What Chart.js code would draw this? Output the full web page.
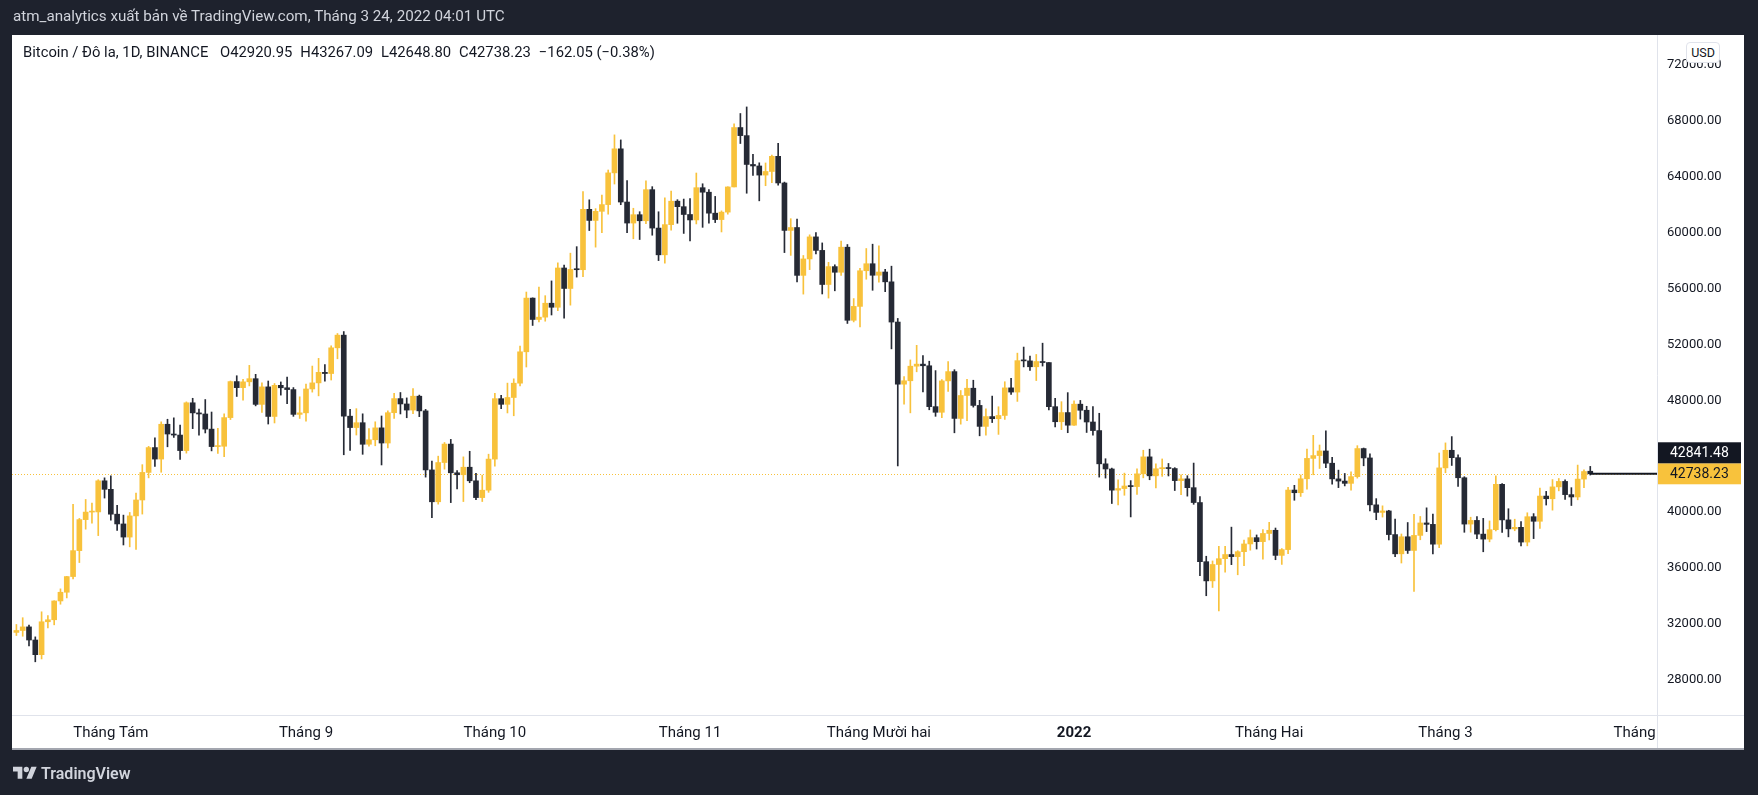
<!DOCTYPE html>
<html>
<head>
<meta charset="utf-8">
<title>Bitcoin / Đô la, 1D, BINANCE</title>
<script src="https://cdn.jsdelivr.net/npm/chart.js@4.4.1/dist/chart.umd.min.js"></script>
<style>
  html, body { margin: 0; padding: 0; background: #1e222d; }
  body { width: 1758px; height: 795px; position: relative; overflow: hidden; font-family: Roboto, "Noto Sans", sans-serif; }
  #chart { position: absolute; left: 0; top: 0; }
  .top { position: absolute; left: 13px; top: 7px; color: #d1d4dc; font-size: 15.2px; white-space: nowrap; }
  .legend { position: absolute; left: 23px; top: 43px; color: #131722; font-size: 14.8px; white-space: nowrap; }
  .legend span { margin-left: 8px; }
  .usd { position: absolute; left: 1686px; top: 42px; width: 32px; height: 19px; line-height: 19px; text-align: center;
         background: #fff; border: 1px solid #e0e3eb; border-radius: 4px; font-size: 12.5px; color: #131722; }
  .brand { position: absolute; left: 13px; top: 763px; height: 20px; display: flex; align-items: center; color: #d1d4dc;
           font-size: 16px; font-weight: 600; }
  .brand svg { width: 24px; height: 19px; margin-right: 4px; }
</style>
</head>
<body>
<canvas id="chart" width="1758" height="795"></canvas>
<div class="top">atm_analytics xuất bản về TradingView.com, Tháng 3 24, 2022 04:01 UTC</div>
<div class="legend">Bitcoin / Đô la, 1D, BINANCE <span>O42920.95</span><span>H43267.09</span><span>L42648.80</span><span>C42738.23</span><span>−162.05 (−0.38%)</span></div>
<div class="usd">USD</div>
<div class="brand"><svg viewBox="0 0 36 28"><path fill="#d1d4dc" d="M14 22H7V11H0V4h14v18zM28 22h-8l7.5-18h8L28 22z"/><circle fill="#d1d4dc" cx="20" cy="8" r="4"/></svg>TradingView</div>
<script>
// daily candles, first one is 2021-07-17
const firstDay = '2021-07-17'

const opens = [
  31383, 31520, 31778, 30839, 29790, 32144, 32287, 33634, 34258, 35381, 37237, 39457, 39996, 40008, 42236,
  41626, 39846, 39147, 38208, 39723, 40862, 42836, 44614, 43792, 46284, 45585, 45511, 44400, 47821, 47097, 47019, 45936, 44686, 44709, 46760, 49339, 48905, 49321, 49546, 47706, 48960, 46843, 49069, 48895, 48767, 46991,
  47100, 48810, 49246, 49999, 49915, 51756, 52663, 46863, 46048, 46395, 44851, 45173, 46026, 44940, 47111, 48121, 47737, 47299, 48293, 47241, 43015, 40734, 43543, 44865, 42810, 42670, 43208, 42236, 41034, 41564,
  43790, 48116, 47711, 48200, 49224, 51471, 55315, 53785, 53951, 54949, 54659, 57471, 56005, 57367, 57347, 61672, 60875, 61528, 62009, 64280, 66001, 62193, 60688, 61286, 60852, 63078, 60328, 58413, 60575, 62253, 61859,
  61300, 60911, 63219, 62896, 61395, 60937, 61470, 63273, 67525, 66947, 64882, 64774, 64122, 64380, 65466, 63557, 60161, 60368, 56942, 58119, 59697, 58730, 56289, 57569, 57165, 58960, 53727, 54721, 57274, 57776,
  56950, 57184, 56480, 53601, 49152, 49397, 50441, 50588, 50471, 47545, 47140, 49389, 50053, 46702, 48343, 48864, 47632, 46131, 46834, 46681, 46914, 48889, 48588, 50838, 50820, 50399, 50775, 50701, 47543, 46464, 47120,
  46216, 47722, 47286, 46446, 45832, 43451, 43082, 41566, 41680, 41864, 41822, 42735, 43949, 42591, 43099, 43177, 43113, 42250, 42375, 41744, 40680, 36445, 35071, 36244, 36660, 36958, 36809, 37160, 37716, 38166, 37881,
  38466, 38694, 36896, 37311, 41574, 41382, 42380, 43839, 44042, 44372, 43495, 42373, 42217, 42053, 42535, 44544, 43873, 40515, 39974, 40079, 38386, 37008, 38230, 37250, 38327, 39219, 39116, 37699,
  43160, 44421, 43892, 42454, 39137, 39400, 38419, 38062, 38737, 41982, 39437, 38795, 38904, 37849, 39666, 39338, 41143, 40951, 41801, 42191, 41247, 41078, 42358, 42920.95
]
const highs = [
  31950, 32435, 31899, 31063, 32858, 32591, 33650, 34500, 35398, 40550, 39542, 40900, 40640, 42316, 42448,
  42599, 40480, 39780, 39969, 41350, 43392, 44700, 45310, 46456, 46643, 46743, 46218, 47886, 48144, 47372, 48053, 47160, 46000, 47033, 49382, 49757, 49500, 50500, 49860, 49250, 49380, 49200, 49313, 49668, 48910, 48250,
  49156, 50450, 51000, 50558, 51900, 52780, 52920, 47360, 47400, 47031, 45980, 46460, 46876, 47250, 48500, 48557, 48170, 48843, 48372, 47347, 43639, 44000, 44978, 45200, 42966, 43950, 44350, 42777, 42640, 44141,
  48495, 48360, 49229, 49536, 51887, 55750, 55332, 56100, 55489, 56545, 57839, 57680, 58532, 58998, 62933, 62350, 61720, 62695, 64486, 67000, 66639, 63732, 61747, 61500, 63710, 63293, 61496, 62499, 62980, 62359, 62405,
  62437, 64270, 63500, 63086, 62595, 61560, 63286, 67789, 68530, 69000, 65600, 65000, 64990, 65550, 66401, 63620, 61000, 60976, 58366, 59845, 60000, 59266, 57875, 57700, 59398, 59150, 55281, 57445, 58865, 59175,
  59053, 57375, 57600, 53859, 49699, 50890, 51936, 51200, 50797, 50125, 49485, 50777, 50189, 48700, 49500, 49436, 47995, 47392, 48300, 47537, 49328, 49576, 51375, 51810, 51156, 51280, 52088, 50704, 48139, 47900, 48548,
  47954, 47990, 47570, 47557, 47070, 43816, 43145, 42300, 42786, 42248, 43100, 44423, 44500, 43448, 43800, 43478, 43176, 42664, 42600, 43505, 41100, 36835, 36499, 37550, 37545, 38919, 37234, 38000, 38720, 38359, 38744,
  39265, 38855, 37387, 41772, 41913, 42656, 44500, 45492, 44799, 45821, 43920, 43000, 42760, 42876, 44751, 44582, 44164, 40959, 40444, 40125, 39494, 38429, 39249, 39843, 39683, 40300, 39855, 44225,
  44949, 45400, 44101, 42527, 39630, 39680, 39547, 39362, 42594, 42039, 40236, 39486, 39310, 39947, 39887, 41718, 41478, 42325, 42400, 42300, 41744, 43361, 43025, 43267.09
]
const lows = [
  31160, 31108, 30408, 29278, 29482, 31708, 31925, 33401, 33851, 35205, 36383, 38772, 39200, 38313, 41000,
  39422, 38690, 37642, 37508, 37332, 39853, 42446, 43261, 42848, 44670, 45341, 43770, 44217, 45971, 45500, 45660, 44377, 44203, 43955, 46622, 48273, 48000, 49030, 47600, 47136, 46300, 46376, 48370, 47762, 46850, 46700,
  46512, 48584, 48316, 49370, 49450, 50970, 44100, 44412, 45513, 44132, 44722, 44742, 43370, 44594, 46700, 47021, 46750, 47033, 46829, 42500, 39600, 40565, 43069, 40675, 41646, 40750, 42098, 40888, 40753, 41410,
  43283, 47400, 47093, 46891, 49024, 50382, 53357, 53617, 53661, 54106, 54415, 53879, 54810, 56818, 56850, 60150, 58963, 60000, 61322, 63481, 62000, 60000, 59562, 59510, 60650, 59817, 58000, 57820, 60174, 60673, 59945,
  59405, 60624, 60382, 60677, 60721, 60050, 61322, 63273, 66382, 62822, 64100, 62278, 63360, 63576, 63400, 58574, 58373, 56474, 55600, 57353, 58470, 55610, 55317, 55837, 56938, 53500, 53610, 53256, 56666, 55875,
  56458, 55777, 51680, 43300, 47727, 47100, 50039, 48600, 47320, 46852, 46751, 48638, 45672, 46290, 46547, 47511, 45456, 45500, 46406, 45558, 46630, 48421, 47920, 50390, 50142, 49412, 50449, 47313, 46096, 45900, 45678,
  46208, 46654, 45696, 45500, 42500, 42430, 40610, 40501, 41200, 39650, 41268, 42447, 42311, 41725, 42555, 42581, 41540, 41250, 41138, 40553, 35440, 34008, 34601, 32917, 35701, 36234, 35507, 36155, 37268, 37351, 36632,
  38000, 36586, 36250, 37026, 40843, 41116, 41645, 42666, 43117, 43174, 42000, 41748, 41870, 41570, 42427, 43310, 40073, 39450, 39639, 38000, 36800, 36350, 37036, 34322, 38014, 38600, 37000, 37450,
  42809, 43334, 41832, 38550, 38556, 38088, 37155, 37867, 38656, 38539, 38223, 38660, 37578, 37578, 38098, 38828, 40500, 40135, 41516, 40911, 40467, 40875, 41751, 42648.80
]
const closes = [
  31520, 31778, 30839, 29790, 32144, 32287, 33634, 34258, 35381, 37237, 39457, 39996, 40008, 42236, 41626,
  39846, 39147, 38208, 39723, 40862, 42836, 44614, 43792, 46284, 45585, 45511, 44400, 47821, 47097, 47019, 45936, 44686, 44709, 46760, 49339, 48905, 49321, 49546, 47706, 48960, 46843, 49069, 48895, 48767, 46991, 47100,
  48810, 49246, 49999, 49915, 51756, 52663, 46863, 46048, 46395, 44851, 45173, 46026, 44940, 47111, 48121, 47737, 47299, 48293, 47241, 43015, 40734, 43543, 44865, 42810, 42670, 43208, 42236, 41034, 41564, 43790,
  48116, 47711, 48200, 49224, 51471, 55315, 53785, 53951, 54949, 54659, 57471, 56005, 57367, 57347, 61672, 60875, 61528, 62009, 64280, 66001, 62193, 60688, 61286, 60852, 63078, 60328, 58413, 60575, 62253, 61859, 61300,
  60911, 63219, 62896, 61395, 60937, 61470, 63273, 67525, 66947, 64882, 64774, 64122, 64380, 65466, 63557, 60161, 60368, 56942, 58119, 59697, 58730, 56289, 57569, 57165, 58960, 53727, 54721, 57274, 57776, 56950,
  57184, 56480, 53601, 49152, 49397, 50441, 50588, 50471, 47545, 47140, 49389, 50053, 46702, 48343, 48864, 47632, 46131, 46834, 46681, 46914, 48889, 48588, 50838, 50820, 50399, 50775, 50701, 47543, 46464, 47120, 46216,
  47722, 47286, 46446, 45832, 43451, 43082, 41566, 41680, 41864, 41822, 42735, 43949, 42591, 43099, 43177, 43113, 42250, 42375, 41744, 40680, 36445, 35071, 36244, 36660, 36958, 36809, 37160, 37716, 38166, 37881, 38466,
  38694, 36896, 37311, 41574, 41382, 42380, 43839, 44042, 44372, 43495, 42373, 42217, 42053, 42535, 44544, 43873, 40515, 39974, 40079, 38386, 37008, 38230, 37250, 38327, 39219, 39116, 37699, 43160,
  44421, 43892, 42454, 39137, 39400, 38419, 38062, 38737, 41982, 39437, 38795, 38904, 37849, 39666, 39338, 41143, 40951, 41801, 42191, 41247, 41078, 42358, 42900, 42738.23
]

const monthTickDates = ['2021-08-01', '2021-09-01', '2021-10-01', '2021-11-01', '2021-12-01', '2022-01-01', '2022-02-01', '2022-03-01', '2022-04-01']
const monthTickLabels = ['Tháng Tám', 'Tháng 9', 'Tháng 10', 'Tháng 11', 'Tháng Mười hai', '2022', 'Tháng Hai', 'Tháng 3', 'Tháng 4']
const priceTicks = [28000, 32000, 36000, 40000, 44000, 48000, 52000, 56000, 60000, 64000, 68000, 72000]
const secondPrice = 42841.48

const upColor = '#f8c23c'
const downColor = '#262a35'
const dayMs = 86400000
const origin = Date.parse('2021-08-01')

// x = days since 1 Aug 2021
const start = (Date.parse(firstDay) - origin) / dayMs
const xs = closes.map((c, i) => start + i)
const colors = closes.map((c, i) => c >= opens[i] ? upColor : downColor)
const monthTickX = monthTickDates.map(d => (Date.parse(d) - origin) / dayMs)
const last = closes.length - 1

const frame = {
  id: 'frame',
  beforeDraw(chart) {
    const c = chart.ctx
    const a = chart.chartArea
    const y = chart.scales.y
    const x = chart.scales.x
    c.save()
    c.fillStyle = '#1e222d'
    c.fillRect(0, 0, chart.width, chart.height)
    c.fillStyle = '#ffffff'
    c.fillRect(a.left, a.top, y.right - a.left, x.bottom - a.top)
    c.restore()
  },
  beforeDatasetsDraw(chart) {
    const c = chart.ctx
    const a = chart.chartArea
    const py = Math.round(chart.scales.y.getPixelForValue(closes[last])) + 0.5
    c.save()
    c.strokeStyle = upColor
    c.lineWidth = 1
    c.setLineDash([1, 2])
    c.beginPath()
    c.moveTo(a.left, py)
    c.lineTo(a.right, py)
    c.stroke()
    c.restore()
  },
  afterDatasetsDraw(chart) {
    const c = chart.ctx
    const a = chart.chartArea
    const py = chart.scales.y.getPixelForValue(closes[last])
    const px = chart.scales.x.getPixelForValue(xs[last])
    c.save()
    c.strokeStyle = '#131722'
    c.lineWidth = 2
    c.beginPath()
    c.moveTo(px, py)
    c.lineTo(a.right, py)
    c.stroke()
    c.restore()
  },
  afterDraw(chart) {
    const c = chart.ctx
    const a = chart.chartArea
    const y = chart.scales.y
    const x = chart.scales.x
    const py = y.getPixelForValue(closes[last])
    c.save()
    // hide the part of the last month label that runs under the price axis
    c.fillStyle = '#ffffff'
    c.fillRect(a.right, x.top, y.right - a.right, x.bottom - x.top)
    c.fillStyle = '#e0e3eb'
    c.fillRect(a.left, a.bottom, y.right - a.left, 1)
    c.fillRect(a.right, a.bottom, 1, x.bottom - a.bottom)
    c.fillStyle = '#a3a6af'
    c.fillRect(a.left, x.bottom - 1, y.right - a.left, 2)

    const bw = 83, bh = 21
    c.font = '14px Roboto, "Noto Sans", sans-serif'
    c.textBaseline = 'middle'
    c.textAlign = 'left'
    c.fillStyle = upColor
    c.fillRect(a.right + 1, py - bh / 2, bw, bh)
    c.fillStyle = '#131722'
    c.fillText(closes[last].toFixed(2), a.right + 13, py + 1)
    c.fillStyle = '#131722'
    c.fillRect(a.right + 1, py - bh / 2 - bh, bw, bh)
    c.fillStyle = '#ffffff'
    c.fillText(secondPrice.toFixed(2), a.right + 13, py - bh + 1)
    c.restore()
  }
}

Chart.defaults.font.family = 'Roboto, "Noto Sans", sans-serif'

new Chart(document.getElementById('chart'), {
  type: 'bar',
  data: {
    datasets: [{
        label: 'wick',
        data: xs.map((v, i) => ({ x: v, y: [lows[i], highs[i]] })),
        backgroundColor: colors,
        barThickness: 1,
        grouped: false
      },
      {
        label: 'body',
        data: xs.map((v, i) => ({ x: v, y: [opens[i], closes[i]] })),
        backgroundColor: colors,
        barThickness: 5,
        minBarLength: 1,
        grouped: false
      }
    ]
  },
  options: {
    responsive: false,
    animation: false,
    devicePixelRatio: 1,
    layout: { padding: { left: 12, top: 35, right: 14, bottom: 46 } },
    plugins: { legend: { display: false }, tooltip: { enabled: false } },
    events: [],
    scales: {
      x: {
        type: 'linear',
        offset: false,
        min: -15.7,
        max: 245.6,
        grid: { display: false, drawTicks: false },
        border: { display: false },
        afterBuildTicks: s => { s.ticks = monthTickX.map(v => ({ value: v })) },
        afterFit: s => { s.height = 34 },
        ticks: {
          autoSkip: false,
          maxRotation: 0,
          padding: 9,
          color: '#131722',
          font: ctx => ({ size: 15, weight: ctx.index === 5 ? 'bold' : 'normal' }),
          callback: (v, i) => monthTickLabels[i]
        }
      },
      y: {
        position: 'right',
        min: 25470,
        max: 74150,
        grid: { display: false, drawTicks: false },
        border: { display: true, color: '#e0e3eb' },
        afterBuildTicks: s => { s.ticks = priceTicks.map(v => ({ value: v })) },
        afterFit: s => { s.width = 87 },
        ticks: {
          padding: 10,
          color: '#131722',
          font: { size: 13 },
          callback: v => v.toFixed(2)
        }
      }
    }
  },
  plugins: [frame]
})
</script>
</body>
</html>
